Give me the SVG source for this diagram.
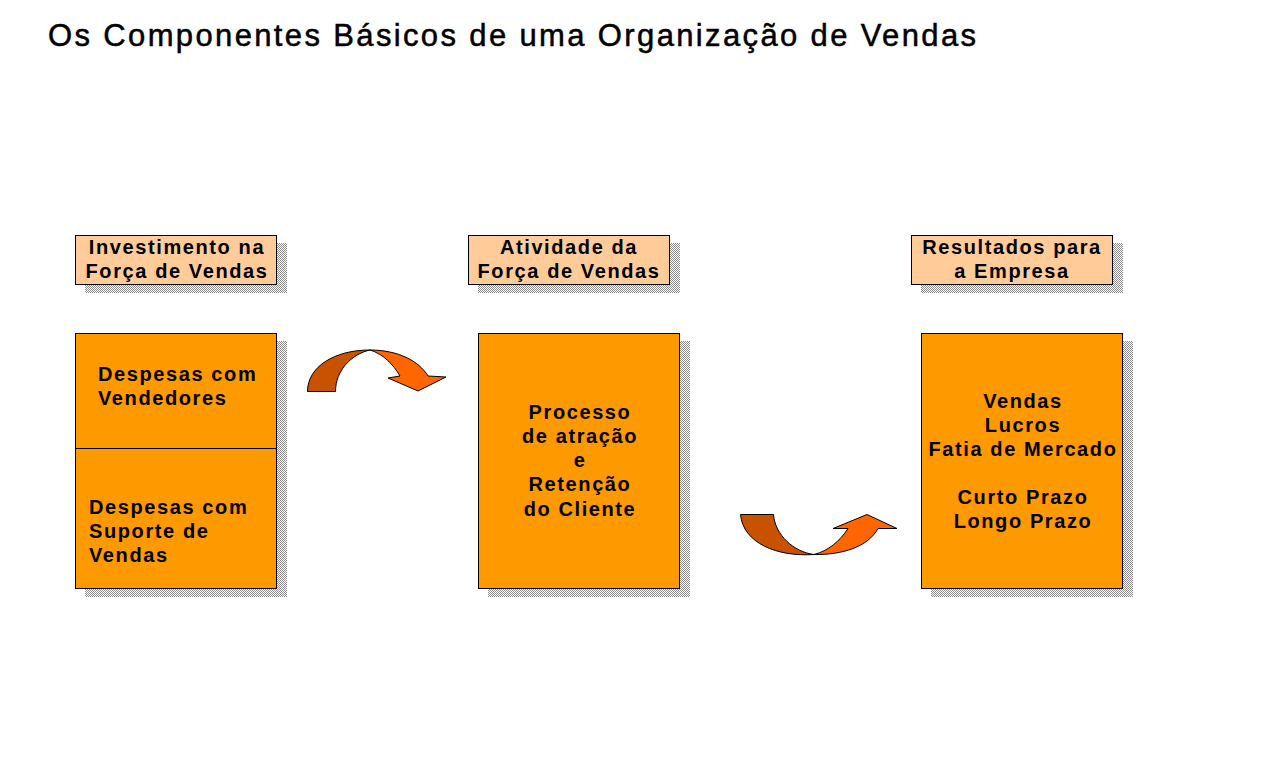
<svg xmlns="http://www.w3.org/2000/svg" width="1278" height="782" viewBox="0 0 1278 782">
<defs>
<pattern id="dither" width="2" height="2" patternUnits="userSpaceOnUse">
<rect width="2" height="2" fill="#ffffff"/>
<rect x="0" y="0" width="1" height="1" fill="#8c8c8c"/>
<rect x="1" y="1" width="1" height="1" fill="#8c8c8c"/>
</pattern>
<style>
.title{font-family:"Liberation Sans",Arial,sans-serif;font-size:31px;fill:#000;stroke:#000;stroke-width:0.5px}
.t{font-family:"Liberation Sans",Arial,sans-serif;font-size:20px;font-weight:bold;letter-spacing:1.6px;fill:#000}
.c{text-anchor:middle}
.shadow{fill:url(#dither);stroke:none}
.hdr{fill:#FFCC99;stroke:#000;stroke-width:1}
.box{fill:#FF9900;stroke:#000;stroke-width:1}
.dark{fill:#C85200;stroke:#000;stroke-width:1;stroke-linejoin:round}
.light{fill:#FF6600;stroke:#000;stroke-width:1;stroke-linejoin:round}
</style>
</defs>
<rect width="1278" height="782" fill="#ffffff"/>
<text class="title" x="48" y="46" textLength="928" lengthAdjust="spacing">Os Componentes Básicos de uma Organização de Vendas</text>

<g id="hdr-investimento">
<rect class="shadow" x="85" y="243" width="202" height="50"/>
<rect class="hdr" x="75.5" y="235.5" width="201" height="49"/>
<text class="t c" x="177" y="254">Investimento na</text>
<text class="t c" x="177" y="278">Força de Vendas</text>
</g>

<g id="hdr-atividade">
<rect class="shadow" x="478" y="243" width="202" height="50"/>
<rect class="hdr" x="468.5" y="235.5" width="201" height="49"/>
<text class="t c" x="569" y="254">Atividade da</text>
<text class="t c" x="569" y="278">Força de Vendas</text>
</g>

<g id="hdr-resultados">
<rect class="shadow" x="921" y="243" width="202" height="50"/>
<rect class="hdr" x="911.5" y="235.5" width="201" height="49"/>
<text class="t c" x="1012" y="254">Resultados para</text>
<text class="t c" x="1012" y="278">a Empresa</text>
</g>

<g id="box-investimento">
<rect class="shadow" x="85" y="341" width="202" height="256"/>
<rect class="box" x="75.5" y="333.5" width="201" height="255"/>
<line x1="75.5" y1="448.5" x2="276.5" y2="448.5" stroke="#000" stroke-width="1"/>
<text class="t" x="98" y="381">Despesas com</text>
<text class="t" x="98" y="405">Vendedores</text>
<text class="t" x="89" y="514">Despesas com</text>
<text class="t" x="89" y="538">Suporte de</text>
<text class="t" x="89" y="562">Vendas</text>
</g>

<g id="box-atividade">
<rect class="shadow" x="488" y="341" width="202" height="256"/>
<rect class="box" x="478.5" y="333.5" width="201" height="255"/>
<text class="t c" x="580" y="419">Processo</text>
<text class="t c" x="580" y="443">de atração</text>
<text class="t c" x="580" y="467">e</text>
<text class="t c" x="580" y="491">Retenção</text>
<text class="t c" x="580" y="516">do Cliente</text>
</g>

<g id="box-resultados">
<rect class="shadow" x="931" y="341" width="202" height="256"/>
<rect class="box" x="921.5" y="333.5" width="201" height="255"/>
<text class="t c" x="1023" y="408">Vendas</text>
<text class="t c" x="1023" y="432">Lucros</text>
<text class="t c" x="1023" y="456">Fatia de Mercado</text>
<text class="t c" x="1023" y="504">Curto Prazo</text>
<text class="t c" x="1023" y="528">Longo Prazo</text>
</g>

<g id="connectors">
<g id="arrow-1">
<path class="dark" d="M307.5,391.5 C307.5,367 334,350 370,350 C352,354 335.5,370 335.5,391.5 Z"/>
<path class="light" d="M370,350 C398,350 419,361 428,376 L446,377 L418,391 L388,378 L400,376 C393,364 383,354 370,350 Z"/>
</g>
<g id="arrow-2">
<path class="dark" d="M740.5,514.5 L773.5,514.5 C775,535 794,552 814,554.5 C777,557 743,543 740.5,514.5 Z"/>
<path class="light" d="M814,554.5 C842,555 868,547 878,528.5 L897,528.5 L867,514.5 L833,528.5 L848,528.5 C840,541 828,551 814,554.5 Z"/>
</g>
</g>
</svg>
